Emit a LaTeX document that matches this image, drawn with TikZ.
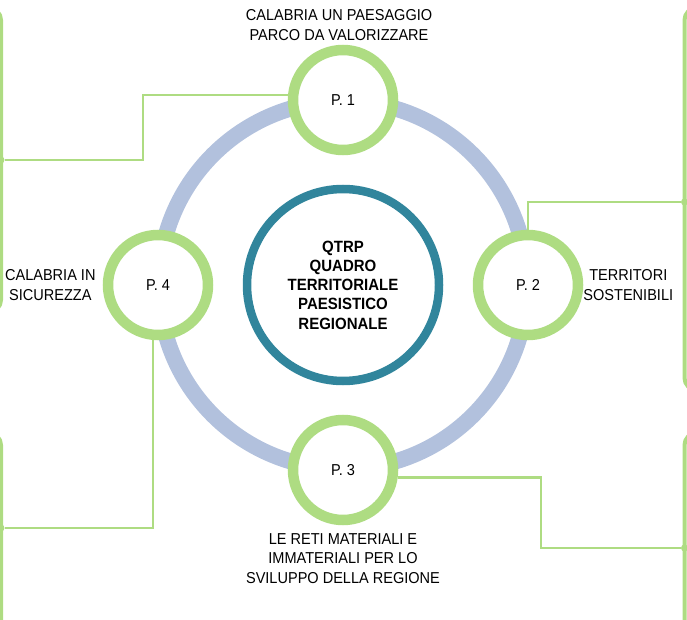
\documentclass[tikz,border=0pt]{standalone}
\usepackage{fontspec}
\setmainfont[FakeStretch=0.92]{Liberation Sans}
\usetikzlibrary{positioning}
\pgfdeclarelayer{bg}
\pgfsetlayers{bg,main}
\definecolor{ringblue}{RGB}{178,193,221}
\definecolor{pgreen}{RGB}{174,220,130}
\definecolor{qteal}{RGB}{49,133,156}

\begin{document}
\begin{tikzpicture}[x=1pt, y=-1pt, node distance=185pt,
	pcircle/.style={circle, draw=pgreen, line width=10.5pt, fill=white, minimum size=100pt, inner sep=0pt, font=\fontsize{15.8}{19.5}\selectfont},
	ptext/.style={align=center, inner sep=0pt, font=\fontsize{15.8}{19.5}\selectfont},
	conn/.style={draw=pgreen, line width=2.5pt},
	frame/.style={draw=pgreen, line width=4pt, rounded corners=12pt},
	jdot/.style={circle, fill=pgreen, inner sep=0pt, minimum size=7pt}]

		\useasboundingbox (0,0) rectangle (687,620);
		\clip (0,0) rectangle (687,620);

		% nodes - centre and pillars %
		\node[circle, draw=qteal, line width=8.5pt, minimum size=192pt, inner sep=0pt, align=center, font=\bfseries\fontsize{16.3}{19.3}\selectfont] (qtrp) at (343,285) {QTRP\\QUADRO\\TERRITORIALE\\PAESISTICO\\REGIONALE};
		\node[pcircle, above of = qtrp] (p1) {P. 1};
		\node[pcircle, right of = qtrp] (p2) {P. 2};
		\node[pcircle, below of = qtrp] (p3) {P. 3};
		\node[pcircle, left of = qtrp] (p4) {P. 4};

		% labels %
		\node[ptext, above=4pt of p1, xshift=-4pt] (t1) {CALABRIA UN PAESAGGIO\\PARCO DA VALORIZZARE};
		\node[ptext, right=0pt of p2] (t2) {TERRITORI\\SOSTENIBILI};
		\node[ptext, below=8pt of p3] (t3) {LE RETI MATERIALI E\\IMMATERIALI PER LO\\SVILUPPO DELLA REGIONE};
		\node[ptext, left=7pt of p4] (t4) {CALABRIA IN\\SICUREZZA};

		% side frames %
		\draw[frame] (-40,8) rectangle (1,312);
		\draw[frame] (-40,433) rectangle (1,720);
		\draw[frame] (684.5,8) rectangle (740,390);
		\draw[frame] (684.5,433) rectangle (740,720);
		\node[jdot] (jl1) at (1,160) {};
		\node[jdot] (jl2) at (1,528) {};
		\node[jdot] (jr1) at (684.5,202) {};
		\node[jdot] (jr2) at (684.5,548) {};
		\coordinate (k3) at (541,548);

		% ring and edges %
		\begin{pgfonlayer}{bg}
		\draw[ringblue, line width=16pt] (qtrp.center) circle (184);
		\draw[conn] (jl1) -- ++(142,0) |- (p1.175);
		\draw[conn] (p2.north) |- (jr1);
		\draw[conn] (p3.-8) -| (k3) -- (jr2);
		\draw[conn] (p4.265) |- (jl2);
		\end{pgfonlayer}

\end{tikzpicture}
\end{document}
